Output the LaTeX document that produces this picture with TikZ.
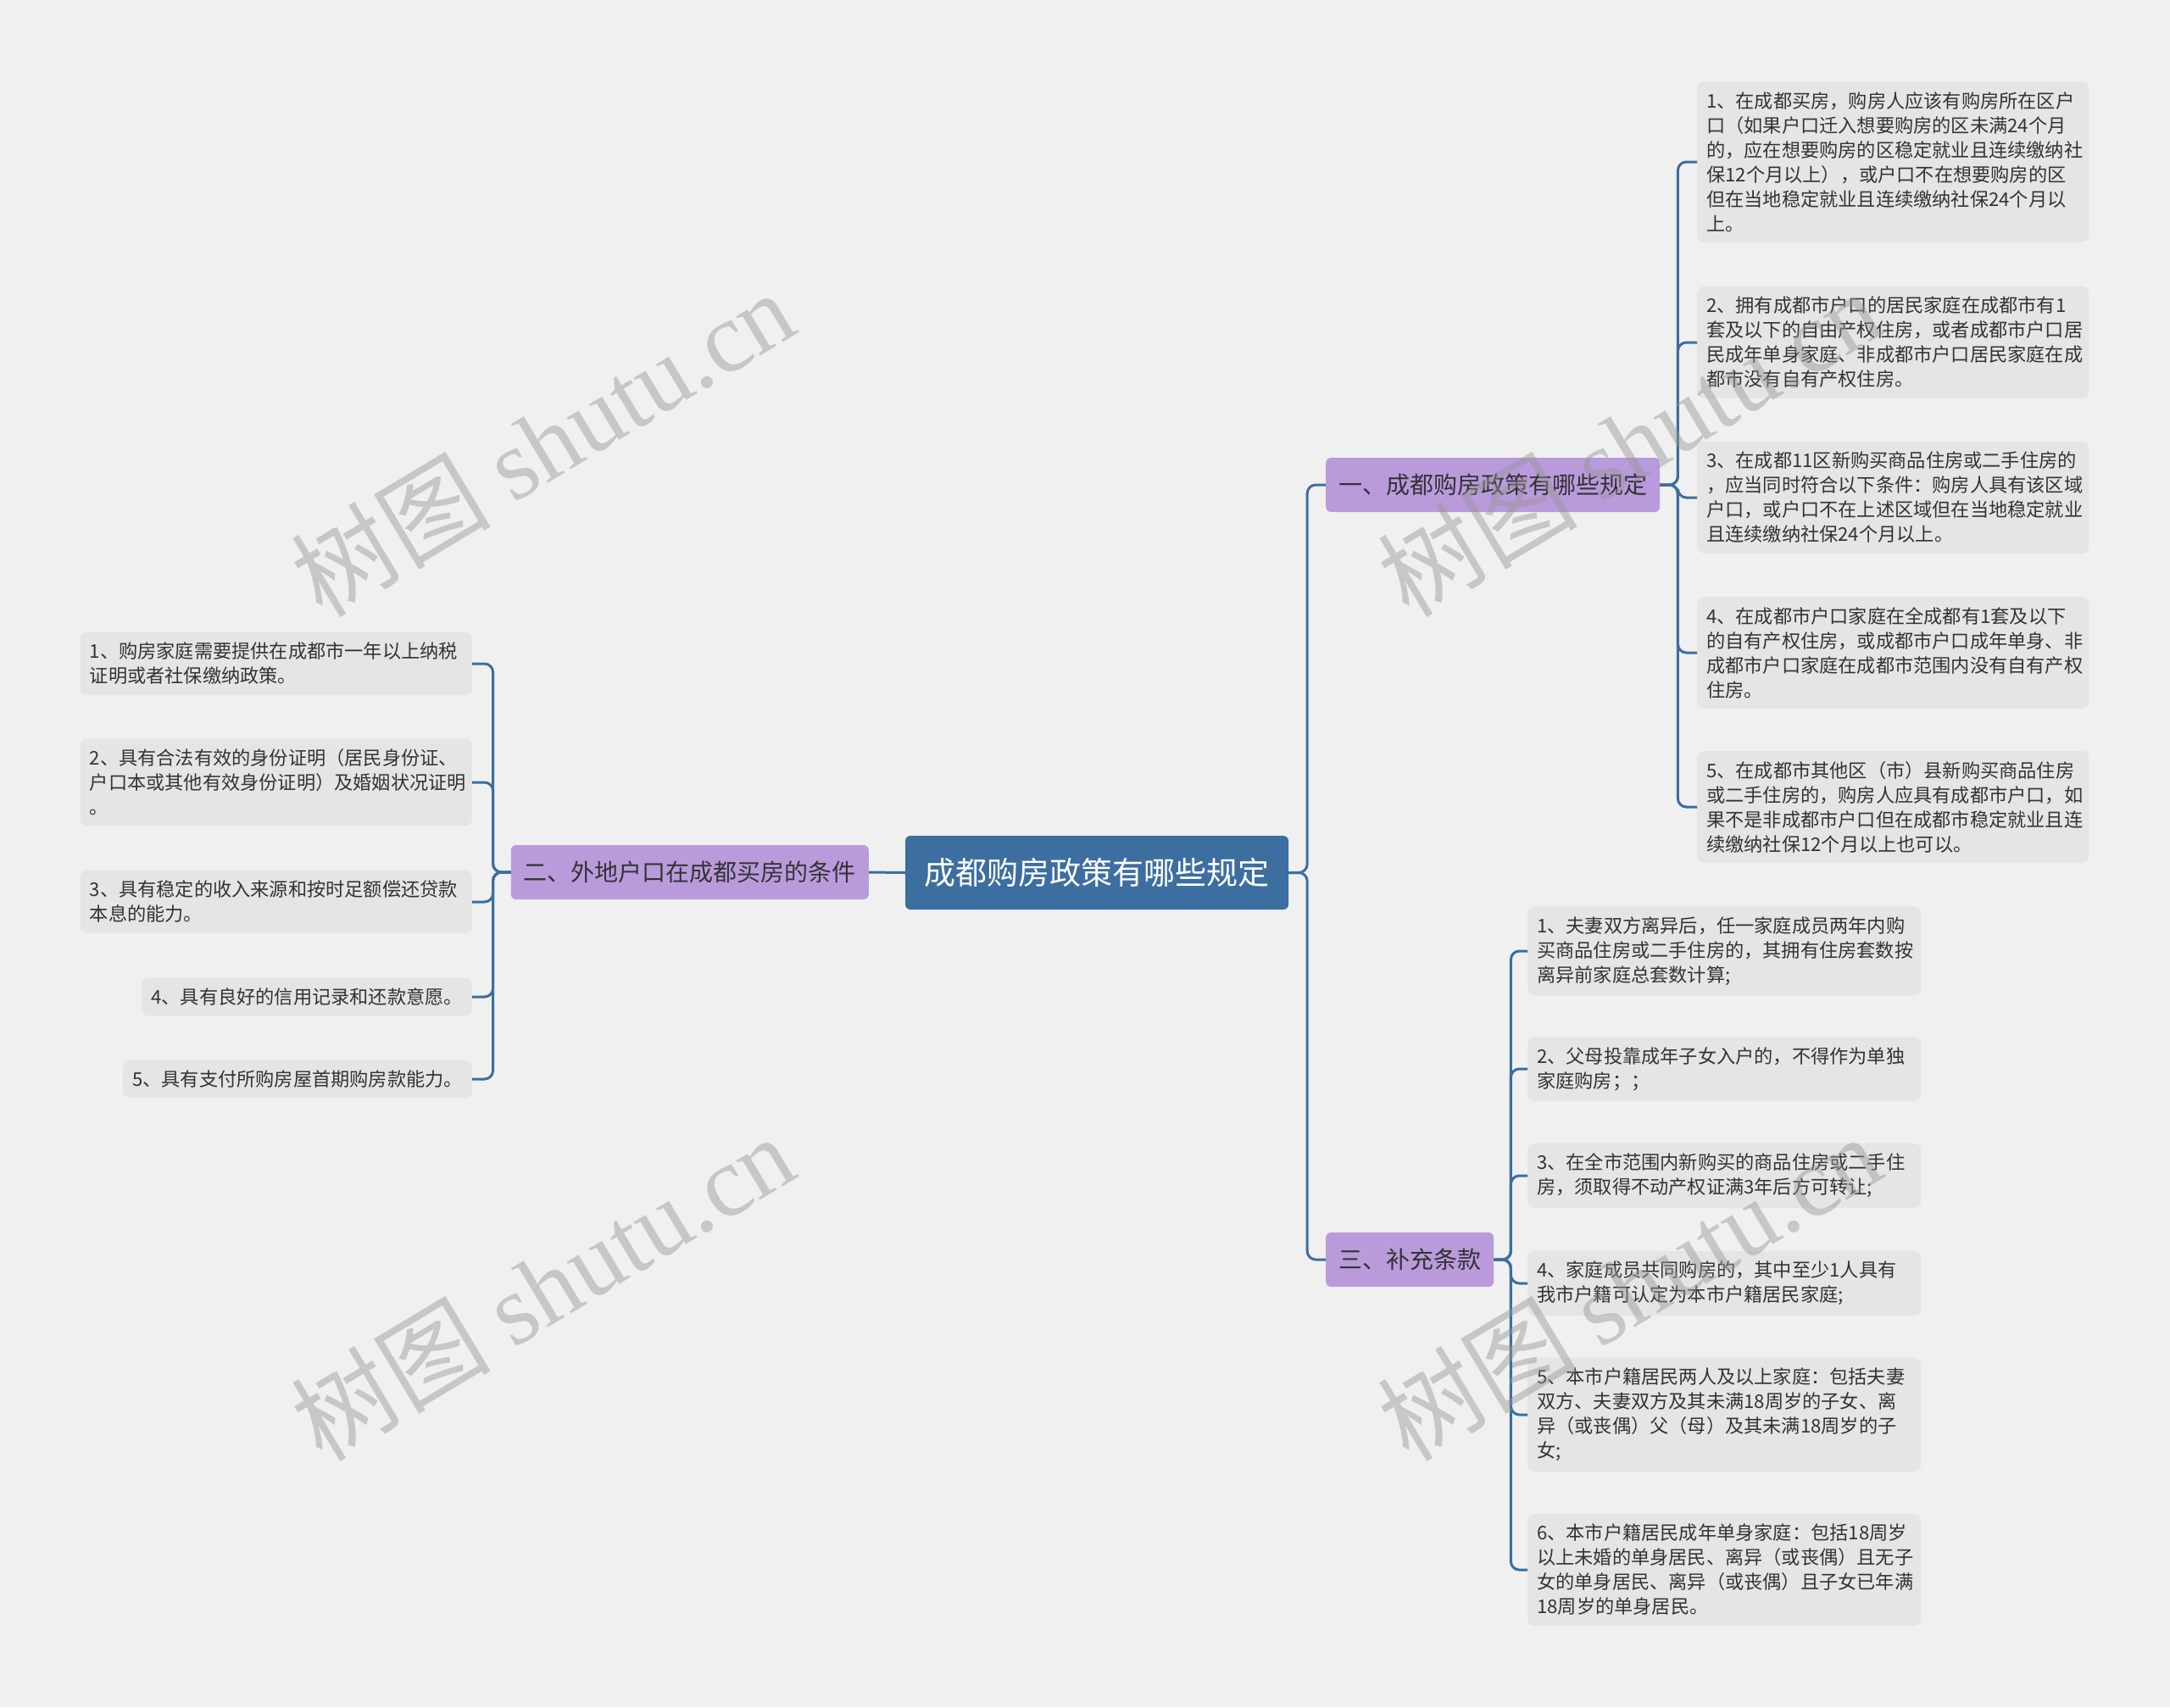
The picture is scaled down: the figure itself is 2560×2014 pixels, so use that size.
\documentclass[tikz,border=0pt]{standalone}
\usepackage{fontspec}
\setmainfont{Noto Sans CJK SC}
\newfontfamily\wmlatin{Liberation Serif}
\usepackage{xcolor}
\usetikzlibrary{positioning}

\definecolor{bgcol}{RGB}{240,240,240}
\definecolor{rootcol}{RGB}{60,110,160}
\definecolor{subcol}{RGB}{185,155,220}
\definecolor{leafcol}{RGB}{229,229,229}
\definecolor{txtcol}{RGB}{51,51,51}
\definecolor{linecol}{RGB}{60,110,160}
\definecolor{wmcol}{RGB}{150,150,150}

\begin{document}
\begin{tikzpicture}[x=1pt, y=-1pt,
  rootbox/.style={fill=rootcol, rounded corners=6pt, text=white,
        font=\fontsize{37}{44}\selectfont, minimum width=452pt,
        minimum height=87pt, inner sep=0pt},
  subbox/.style={fill=subcol, rounded corners=6pt, text=txtcol,
        font=\fontsize{28}{34}\selectfont, minimum height=64pt,
        inner xsep=15pt, inner ysep=0pt},
  leaf/.style={fill=leafcol, rounded corners=8pt, text=txtcol,
        font=\fontsize{22.2}{29}\selectfont, align=left,
        inner xsep=11pt, inner ysep=12pt},
  link/.style={draw=linecol, line width=3pt, rounded corners=10pt},
  wmtext/.style={text=wmcol, text opacity=0.45, rotate=31,
        font=\fontsize{118}{118}\selectfont}]

  \fill[bgcol] (0,0) rectangle (2560,2014);

  % centre and main branches
  \node[rootbox] (root) at (1294,1029.5) {成都购房政策有哪些规定};
  \node[subbox, anchor=west] (one) at (1564,572) {一、成都购房政策有哪些规定};
  \node[subbox, anchor=east] (two) at (1025,1029) {二、外地户口在成都买房的条件};
  \node[subbox, anchor=west] (three) at (1564,1486) {三、补充条款};

  % branch one
  \node[leaf, anchor=west, text width=440pt] (r1) at (2002,191)
        {1、在成都买房，购房人应该有购房所在区户\\口（如果户口迁入想要购房的区未满24个月\\的，应在想要购房的区稳定就业且连续缴纳社\\保12个月以上），或户口不在想要购房的区\\但在当地稳定就业且连续缴纳社保24个月以\\上。};
  \node[leaf, anchor=west, text width=440pt] (r2) at (2002,404)
        {2、拥有成都市户口的居民家庭在成都市有1\\套及以下的自由产权住房，或者成都市户口居\\民成年单身家庭、非成都市户口居民家庭在成\\都市没有自有产权住房。};
  \node[leaf, anchor=west, text width=440pt] (r3) at (2002,587)
        {3、在成都11区新购买商品住房或二手住房的\\，应当同时符合以下条件：购房人具有该区域\\户口，或户口不在上述区域但在当地稳定就业\\且连续缴纳社保24个月以上。};
  \node[leaf, anchor=west, text width=440pt] (r4) at (2002,770)
        {4、在成都市户口家庭在全成都有1套及以下\\的自有产权住房，或成都市户口成年单身、非\\成都市户口家庭在成都市范围内没有自有产权\\住房。};
  \node[leaf, anchor=west, text width=440pt] (r5) at (2002,952)
        {5、在成都市其他区（市）县新购买商品住房\\或二手住房的，购房人应具有成都市户口，如\\果不是非成都市户口但在成都市稳定就业且连\\续缴纳社保12个月以上也可以。};

  % branch two
  \node[leaf, anchor=east, text width=440pt] (l1) at (557,783)
        {1、购房家庭需要提供在成都市一年以上纳税\\证明或者社保缴纳政策。};
  \node[leaf, anchor=east, text width=440pt] (l2) at (557,923)
        {2、具有合法有效的身份证明（居民身份证、\\户口本或其他有效身份证明）及婚姻状况证明\\。};
  \node[leaf, anchor=east, text width=440pt] (l3) at (557,1064)
        {3、具有稳定的收入来源和按时足额偿还贷款\\本息的能力。};
  \node[leaf, anchor=east] (l4) at (557,1176) {4、具有良好的信用记录和还款意愿。};
  \node[leaf, anchor=east] (l5) at (557,1273) {5、具有支付所购房屋首期购房款能力。};

  % branch three
  \node[leaf, anchor=west, text width=442pt] (t1) at (1802,1122)
        {1、夫妻双方离异后，任一家庭成员两年内购\\买商品住房或二手住房的，其拥有住房套数按\\离异前家庭总套数计算;};
  \node[leaf, anchor=west, text width=442pt] (t2) at (1802,1261)
        {2、父母投靠成年子女入户的，不得作为单独\\家庭购房；；};
  \node[leaf, anchor=west, text width=442pt] (t3) at (1802,1387)
        {3、在全市范围内新购买的商品住房或二手住\\房，须取得不动产权证满3年后方可转让;};
  \node[leaf, anchor=west, text width=442pt] (t4) at (1802,1514)
        {4、家庭成员共同购房的，其中至少1人具有\\我市户籍可认定为本市户籍居民家庭;};
  \node[leaf, anchor=west, text width=442pt] (t5) at (1802,1669)
        {5、本市户籍居民两人及以上家庭：包括夫妻\\双方、夫妻双方及其未满18周岁的子女、离\\异（或丧偶）父（母）及其未满18周岁的子\\女;};
  \node[leaf, anchor=west, text width=442pt] (t6) at (1802,1852)
        {6、本市户籍居民成年单身家庭：包括18周岁\\以上未婚的单身居民、离异（或丧偶）且无子\\女的单身居民、离异（或丧偶）且子女已年满\\18周岁的单身居民。};

  % connectors
  \draw[link] (root.east) -- ++(22,0) |- (one.west);
  \draw[link] (root.east) -- ++(22,0) |- (three.west);
  \draw[link] (root.west) -- (two.east);
  \foreach \n in {r1,r2,r3,r4,r5}
    \draw[link] (one.east) -- ++(21,0) |- (\n.west);
  \foreach \n in {l1,l2,l3,l4,l5}
    \draw[link] (two.west) -- ++(-21,0) |- (\n.east);
  \foreach \n in {t1,t2,t3,t4,t5,t6}
    \draw[link] (three.east) -- ++(20,0) |- (\n.west);

  % watermarks
  \node[wmtext] (wm1) at (640,522) {树图 {\wmlatin shutu.cn}};
  \node[wmtext] (wm2) at (1922,522) {树图 {\wmlatin shutu.cn}};
  \node[wmtext] (wm3) at (640,1518) {树图 {\wmlatin shutu.cn}};
  \node[wmtext] (wm4) at (1922,1518) {树图 {\wmlatin shutu.cn}};
\end{tikzpicture}
\end{document}
